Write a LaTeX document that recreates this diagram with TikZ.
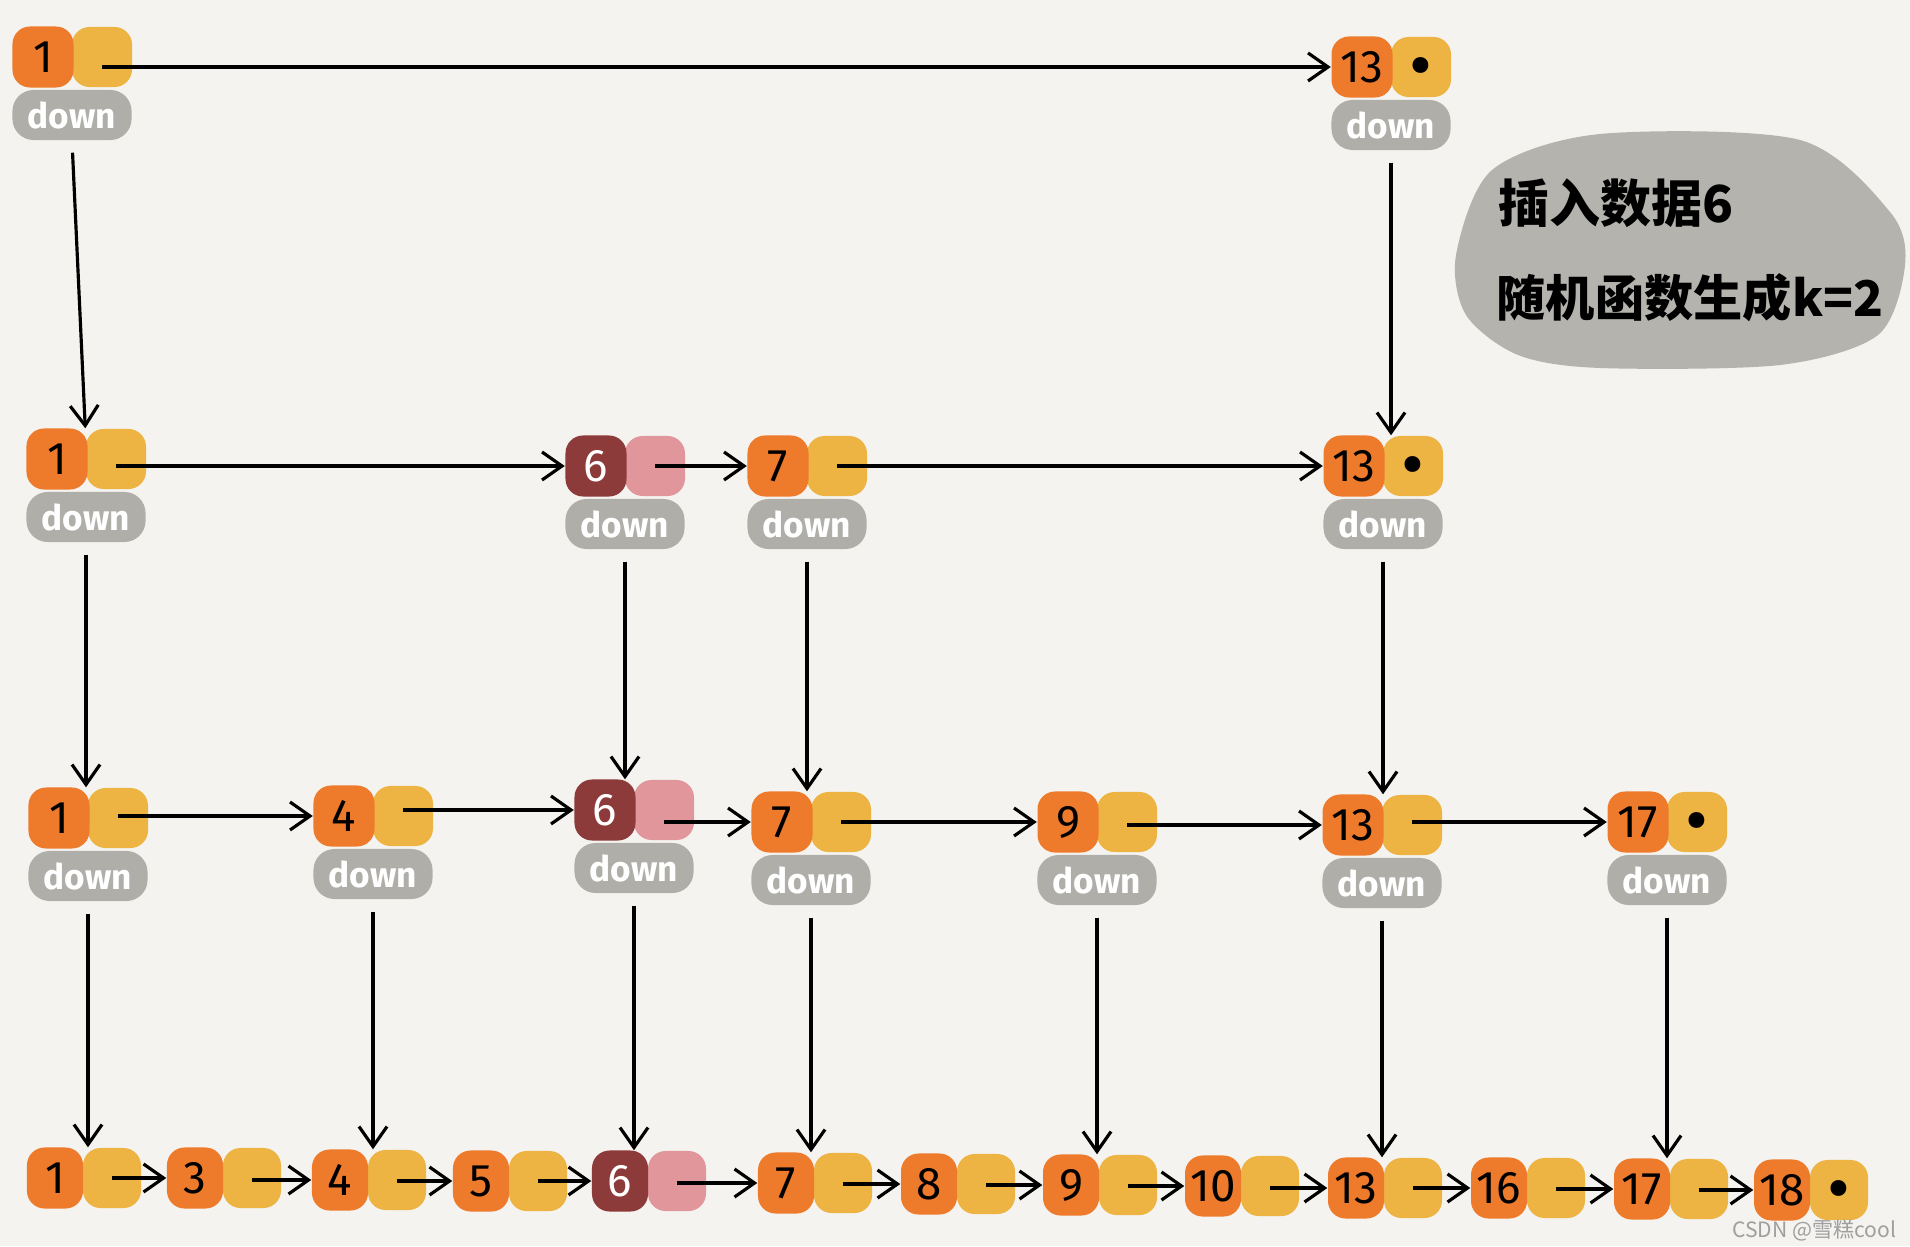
\documentclass[tikz,border=0pt]{standalone}
\usepackage{fontspec}
\setmainfont{Fira Sans}
\newfontfamily\cjk{Noto Sans CJK SC}
\usetikzlibrary{arrows.meta}
\definecolor{paper}{HTML}{F4F3EF}
\definecolor{keyorange}{HTML}{EE7A2C}
\definecolor{nextyellow}{HTML}{EDB444}
\definecolor{downgray}{HTML}{AFAEA8}
\definecolor{newred}{HTML}{8C3A3A}
\definecolor{newpink}{HTML}{E0969A}
\definecolor{notegray}{HTML}{B4B3AD}
\newcommand\nullmark{\raisebox{-6.5pt}[0pt][0pt]{\textbullet}}

\begin{document}
\begin{tikzpicture}[x=0.01cm,y=-0.01cm,>={Straight Barb[length=2mm,width=2.8mm]},
  keybox/.style={fill=keyorange,rounded corners=5pt,minimum width=0.61cm,minimum height=0.61cm,inner sep=0pt,font=\fontsize{13}{13}\selectfont},
  newkey/.style={keybox,fill=newred,text=white},
  nextbox/.style={fill=nextyellow,rounded corners=5pt,minimum width=0.6cm,minimum height=0.6cm,inner sep=0pt,font=\fontsize{20}{20}\selectfont},
  newnext/.style={nextbox,fill=newpink},
  downbox/.style={fill=downgray,rounded corners=6pt,minimum width=1.19cm,minimum height=0.5cm,inner sep=0pt,text=white,font=\bfseries\fontsize{10}{10}\selectfont},
  link/.style={->,line width=0.9pt},
  drop/.style={link,shorten <=1.2mm}]
\fill[paper] (0,0) rectangle (1910,1246);

\foreach \val/\x/\y/\tail in {1/43/57/{},13/1362/67/\nullmark}{
  \node[nextbox] (top\val n) at (\x+59,\y) {\tail};
  \node[keybox] (top\val) at (\x,\y) {\val};
  \node[downbox] (top\val d) at (\x+29,\y+58) {down};
}

\foreach \val/\x/\y/\tail in {1/57/459/{},7/778/466/{},13/1354/466/\nullmark}{
  \node[nextbox] (mid\val n) at (\x+59,\y) {\tail};
  \node[keybox] (mid\val) at (\x,\y) {\val};
  \node[downbox] (mid\val d) at (\x+29,\y+58) {down};
}
\node[newnext] (mid6n) at (655,466) {};
\node[newkey] (mid6) at (596,466) {6};
\node[downbox] (mid6d) at (625,524) {down};

\foreach \val/\x/\y/\tail in {1/59/818/{},4/344/816/{},7/782/822/{},9/1068/822/{},13/1353/825/{},17/1638/822/\nullmark}{
  \node[nextbox] (low\val n) at (\x+59,\y) {\tail};
  \node[keybox] (low\val) at (\x,\y) {\val};
  \node[downbox] (low\val d) at (\x+29,\y+58) {down};
}
\node[newnext] (low6n) at (664,810) {};
\node[newkey] (low6) at (605,810) {6};
\node[downbox] (low6d) at (634,868) {down};

\foreach \val/\x/\y/\tail in {1/55/1178/{},3/195/1178/{},4/340/1180/{},5/481/1181/{},7/786/1183/{},8/929/1184/{},9/1071/1185/{},10/1213/1186/{},13/1356/1188/{},16/1499/1188/{},17/1642/1189/{},18/1782/1190/\nullmark}{
  \node[nextbox,minimum width=0.58cm] (base\val n) at (\x+57,\y) {\tail};
  \node[keybox,minimum width=0.56cm] (base\val) at (\x,\y) {\val};
}
\node[newnext,minimum width=0.58cm] (base6n) at (677,1181) {};
\node[newkey,minimum width=0.56cm] (base6) at (620,1181) {6};

\draw[link] (top1n.center |- top13.west) -- (top13.west);
\draw[drop] (top1d.south) -- (mid1n.north west);
\draw[drop] (top13d.south) -- (top13d.south |- mid13n.north);

\draw[link] (mid1n.center |- mid6.west) -- (mid6.west);
\draw[link] (mid6n.center |- mid7.west) -- (mid7.west);
\draw[link] (mid7n.center |- mid13.west) -- (mid13.west);
\foreach \val in {1,6,7,13}
  \draw[drop] (mid\val d.south) -- (mid\val d.south |- low\val n.north);

\foreach \a/\b in {1/4,4/6,6/7,7/9,9/13,13/17}
  \draw[link] (low\a n.center |- low\b.west) -- (low\b.west);
\foreach \val in {1,4,6,7,9,13,17}
  \draw[drop] (low\val d.south) -- (low\val d.south |- base\val n.north);

\foreach \a/\b in {1/3,3/4,4/5,5/6,6/7,7/8,8/9,9/10,10/13,13/16,16/17,17/18}
  \draw[link] (base\a n.center |- base\b.west) -- (base\b.west);

\fill[notegray] plot[smooth cycle] coordinates {(1456,255) (1492,170) (1600,134) (1800,140) (1890,212) (1905,265) (1878,335) (1780,365) (1600,368) (1518,355) (1466,315)};
\node[anchor=west,inner sep=0pt,font=\cjk\bfseries\fontsize{14.5}{14.5}\selectfont] (line1) at (1498,203) {插入数据6};
\node[anchor=west,inner sep=0pt,font=\cjk\bfseries\fontsize{14}{14}\selectfont] (line2) at (1496,298) {随机函数生成k=2};

\node[anchor=east,inner sep=0pt,text=gray!75,font=\cjk\fontsize{6}{6}\selectfont] (mark) at (1897,1230) {CSDN @雪糕cool};
\end{tikzpicture}
\end{document}
